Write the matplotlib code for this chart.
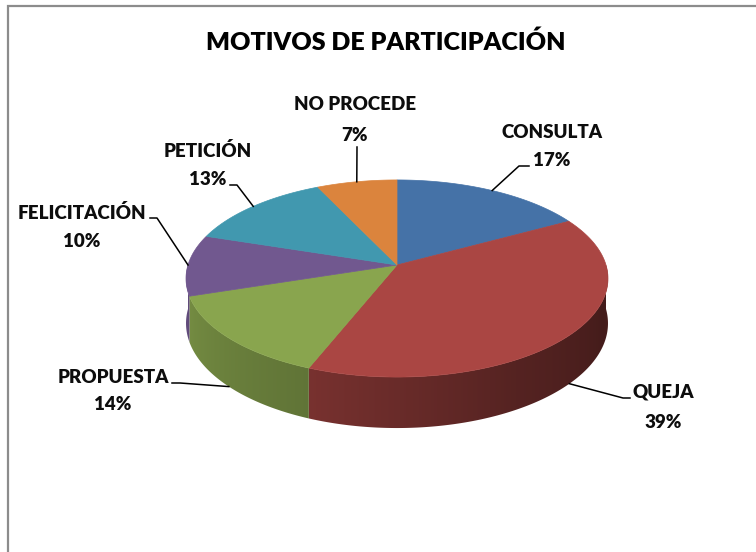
import numpy as np
import matplotlib
matplotlib.use("Agg")
import matplotlib.pyplot as plt
from matplotlib.patches import Polygon

# Datos del gráfico
categorias = ["CONSULTA", "QUEJA", "PROPUESTA", "FELICITACIÓN", "PETICIÓN", "NO PROCEDE"]
porcentajes = [17, 39, 14, 10, 13, 7]
colores = ["#4572A7", "#AA4643", "#89A54E", "#71588F", "#4198AF", "#DB843D"]

# Posición de las etiquetas (centro x, línea base del nombre, línea base del %)
pos_etiquetas = [(552, 138, 166), (663, 398, 428), (113, 383, 410),
                 (82, 219, 247), (208, 157, 185), (355, 110, 141)]
# Codo de la línea guía (punto intermedio y final junto al texto)
codos = [[(519, 166), (529, 166)], [(623, 398), (630, 398)],
         [(180, 383), (172, 383)], [(157, 218), (150, 218)],
         [(237, 185), (230, 185)], [(357, 147)]]

# Geometría del pastel 3D con perspectiva (en píxeles)
CX, CY = 397, 265
S, C, K, H = 209, 96.7, 0.137, 44

FUENTE = ["Lato", "DejaVu Sans"]


def proyectar(theta, z=0.0):
    x = np.cos(theta)
    y = np.sin(theta)
    d = 1 + K * y
    return CX + S * x / d, CY - (C * y + z) / d


def sombra(grados):
    phi = np.mod(grados, 360)
    return np.interp(phi, [180, 250, 300, 340, 360], [0.9, 0.7, 0.5, 0.4, 0.47])


fig = plt.figure(figsize=(7.56, 5.52), dpi=100)
ax = fig.add_axes([0, 0, 1, 1])

# marco
ax.plot([8, 8, 756], [552, 6, 6], color="#8c8c8c", lw=1.6, solid_joinstyle="miter")

total = sum(porcentajes)
limites = 90 - np.concatenate([[0], np.cumsum(porcentajes)]) * 360 / total

# relación x -> ángulo en la mitad frontal (para el degradado lateral)
ang_frente = np.linspace(-172, -8, 400)
x_frente, _ = proyectar(np.radians(ang_frente))

# laterales con degradado
for i, col in enumerate(colores):
    a, b = limites[i], limites[i + 1]
    hi, lo = min(a, 0), max(b, -180)
    if hi <= lo:
        continue
    base = np.array(matplotlib.colors.to_rgb(col))
    ang = np.radians(np.linspace(hi, lo, 200))
    xt, yt = proyectar(ang)
    xb, yb = proyectar(ang, -H)
    pts = list(zip(xt, yt)) + list(zip(xb[::-1], yb[::-1]))
    lado = Polygon(pts, closed=True, facecolor="none", edgecolor="none", zorder=2)
    ax.add_patch(lado)
    x0, x1 = min(xt.min(), xb.min()) - 2, max(xt.max(), xb.max()) + 2
    y0, y1 = min(yt.min(), yb.min()) - 2, max(yt.max(), yb.max()) + 2
    xcol = np.linspace(x0, x1, 300)
    gcol = np.interp(xcol, x_frente, ang_frente)
    img = np.clip(base[None, :] * sombra(gcol)[:, None], 0, 1)[None, :, :]
    im = ax.imshow(img, extent=[x0, x1, y1, y0], aspect="auto",
                   interpolation="bilinear", zorder=2)
    im.set_clip_path(lado)

# tapa superior
for i, col in enumerate(colores):
    ang = np.radians(np.linspace(limites[i], limites[i + 1], 120))
    xs, ys = proyectar(ang)
    pts = [(CX, CY)] + list(zip(xs, ys))
    ax.add_patch(Polygon(pts, closed=True, facecolor=col, edgecolor=col, lw=0.5, zorder=3))

ax.set_xlim(0, 756)
ax.set_ylim(552, 0)
ax.axis("off")

# etiquetas y líneas guía
for i, nombre in enumerate(categorias):
    medio = np.radians((limites[i] + limites[i + 1]) / 2)
    z = -H if np.sin(medio) < -0.01 else 0.0
    x0, y0 = proyectar(medio, z)
    xs = [x0] + [p[0] for p in codos[i]]
    ys = [y0] + [p[1] for p in codos[i]]
    ax.plot(xs, ys, color="black", lw=1.1, zorder=4)
    cx, yb1, yb2 = pos_etiquetas[i]
    ax.text(cx, yb1, nombre, ha="center", va="baseline", fontsize=13.5,
            fontweight="heavy", family=FUENTE, color="#0d0d0d")
    ax.text(cx, yb2, f"{porcentajes[i]}%", ha="center", va="baseline", fontsize=13.5,
            fontweight="heavy", family=FUENTE, color="#0d0d0d")

ax.text(386, 50, "MOTIVOS DE PARTICIPACIÓN", ha="center", va="baseline",
        fontsize=18, fontweight="heavy", family=FUENTE, color="black")

fig.savefig("out.png", dpi=100)
